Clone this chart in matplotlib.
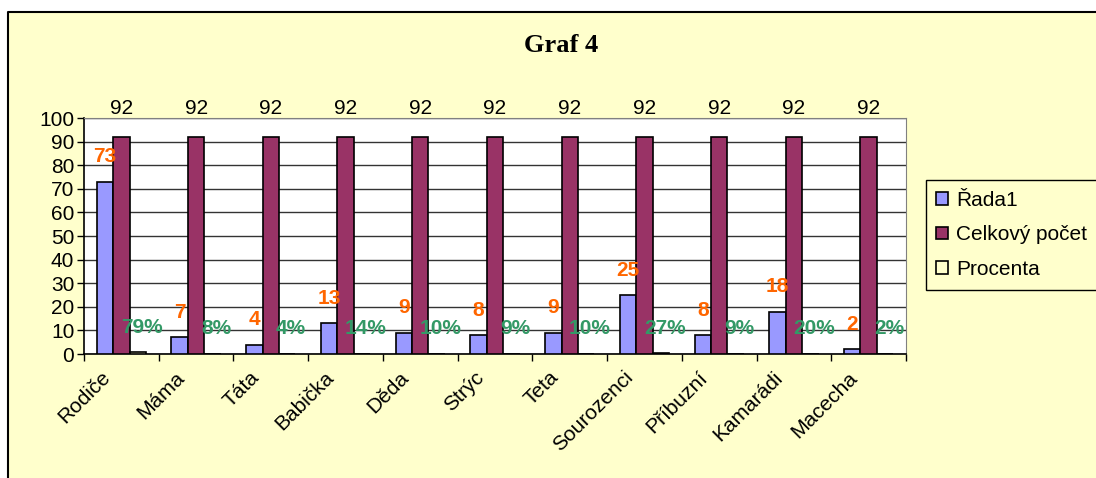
import matplotlib.pyplot as plt
import matplotlib.patches as mpatches
import matplotlib.lines as mlines
import numpy as np

categories = ["Rodiče", "Máma", "Táta", "Babička", "Děda", "Strýc", "Teta",
              "Sourozenci", "Příbuzní", "Kamarádi", "Macecha"]
rada1 = [73, 7, 4, 13, 9, 8, 9, 25, 8, 18, 2]
celkem = [92] * 11
procenta = [0.79, 0.08, 0.04, 0.14, 0.10, 0.09, 0.10, 0.27, 0.09, 0.20, 0.02]
pct_labels = ["79%", "8%", "4%", "14%", "10%", "9%", "10%", "27%", "9%", "20%", "2%"]

BG = "#FFFFCC"
plt.rcParams["font.family"] = ["Liberation Sans", "DejaVu Sans"]

fig = plt.figure(figsize=(10.96, 4.78), dpi=100, facecolor="white")
# chart area, right and bottom edges run off the picture
x0, y0 = 8 / 1096, 1 - 12 / 478
fig.patches.append(mpatches.Rectangle((x0, 0), 1 - x0, y0, transform=fig.transFigure,
                                      facecolor=BG, edgecolor="none", zorder=-10))
fig.lines.append(mlines.Line2D([x0, x0, 1.01], [0, y0, y0], transform=fig.transFigure,
                               color="black", linewidth=1.5))

ax = fig.add_axes([84 / 1096, 1 - 354 / 478, 822 / 1096, 236 / 478])
ax.set_facecolor("white")

x = np.arange(len(categories))
w = 0.22
ax.bar(x - w, rada1, w, color="#9999FF", edgecolor="black", linewidth=1.2, label="Řada1", zorder=3)
ax.bar(x, celkem, w, color="#993366", edgecolor="black", linewidth=1.2, label="Celkový počet", zorder=3)
ax.bar(x + w, procenta, w, color=BG, edgecolor="black", linewidth=1.2, label="Procenta", zorder=3)

for xi, v in zip(x, rada1):
    ax.text(xi - w, v + 10.5, str(v), ha="center", va="center", color="#FF6600",
            fontsize=15, fontweight="bold", zorder=5)
for xi, v in zip(x, celkem):
    ax.text(xi, 100.0, str(v), ha="center", va="bottom", fontsize=15, clip_on=False, zorder=5)
for xi, v, t in zip(x, procenta, pct_labels):
    ax.text(xi + w + 0.05, v + 10.6, t, ha="center", va="center", color="#339966",
            fontsize=15, fontweight="bold", zorder=5)

ax.set_xlim(-0.5, len(categories) - 0.5)
ax.set_ylim(0, 100)
ax.set_yticks(range(0, 101, 10))
ax.grid(axis="y", color="#333333", linewidth=1, zorder=0)
# labels sit a bit left of the category centre, like Excel does
ax.set_xticks(x - 0.28)
ax.set_xticklabels(categories, rotation=45, ha="right", va="top", rotation_mode="anchor", fontsize=15)
ax.tick_params(axis="x", length=0, pad=10)
ax.set_xticks(np.arange(-0.5, len(categories), 1), minor=True)
ax.tick_params(axis="x", which="minor", length=5, direction="out", width=1)
ax.tick_params(axis="y", length=5, width=1, labelsize=15, pad=2)
for s in ["top", "right"]:
    ax.spines[s].set_color("#808080")
for s in ["left", "bottom"]:
    ax.spines[s].set_color("black")
    ax.spines[s].set_linewidth(1.2)

fig.text(561 / 1096, 1 - 45 / 478, "Graf 4", ha="center", va="center",
         fontsize=19, fontweight="bold", family="Liberation Serif")

leg = fig.legend(loc="center left", bbox_to_anchor=(926 / 1096, 1 - 235 / 478),
                 fontsize=15, frameon=True, fancybox=False, edgecolor="black",
                 facecolor=BG, framealpha=1, handlelength=0.55, handleheight=0.55,
                 handletextpad=0.4, labelspacing=0.75, borderpad=0.5, borderaxespad=0)
leg.get_frame().set_linewidth(1)

fig.savefig("out.png", dpi=100, facecolor="white")
